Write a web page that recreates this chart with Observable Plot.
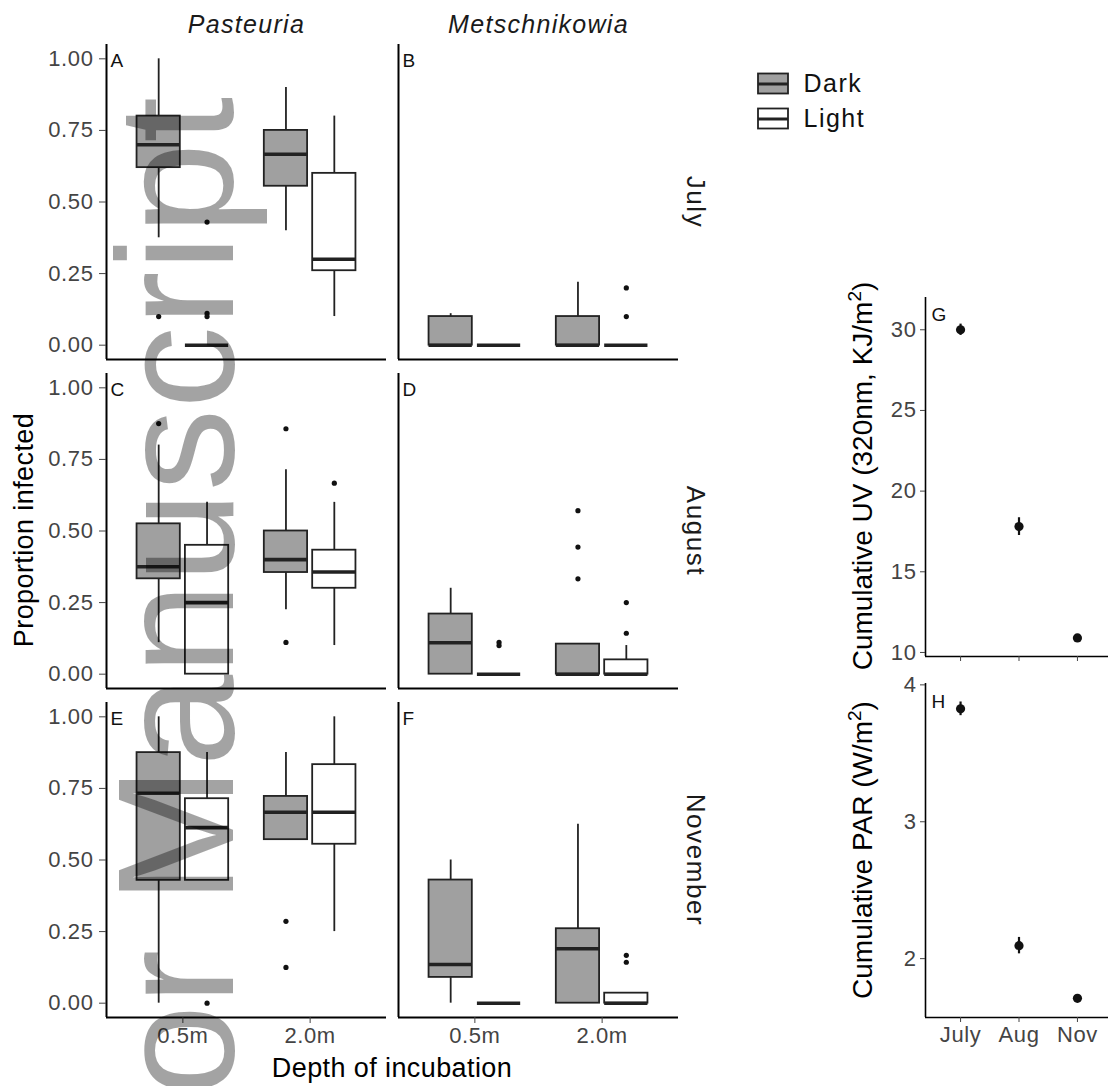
<!DOCTYPE html>
<html>
<head>
<meta charset="utf-8">
<script src="https://cdn.jsdelivr.net/npm/d3@7"></script>
<script src="https://cdn.jsdelivr.net/npm/@observablehq/plot@0.6"></script>
<style>
  body { margin: 0; background: #fff; }
  #fig { position: relative; width: 1108px; height: 1086px; overflow: hidden; background: #fff;
         font-family: "Liberation Sans", Arial, sans-serif; }
  #fig > svg { position: absolute; }
  g[aria-label="y-axis tick label"] text, g[aria-label="x-axis tick label"] text { letter-spacing: 0.6px; }
  g[aria-label="fx-axis tick label"] text { letter-spacing: 1.3px; }
  g[aria-label="fy-axis tick label"] text { letter-spacing: 1.6px; }
  .legend-text text { letter-spacing: 1.5px; }
</style>
</head>
<body>
<div id="fig"></div>
<script>
// ---------------- data ----------------
const species = ["Pasteuria", "Metschnikowia"];
const months = ["July", "August", "November"];
const depths = ["0.5m", "2.0m"];
const treatments = ["Dark", "Light"];

const panelLetters = ["A", "B", "C", "D", "E", "F"];
const panelSpecies = ["Pasteuria", "Metschnikowia", "Pasteuria", "Metschnikowia", "Pasteuria", "Metschnikowia"];
const panelMonth = ["July", "July", "August", "August", "November", "November"];

// boxes: panel A..F, each in order 0.5m Dark, 0.5m Light, 2.0m Dark, 2.0m Light
const whiskerLow = [
  0.375, 0, 0.40, 0.10,
  0, 0, 0, 0,
  0.11, 0, 0.225, 0.10,
  0, 0, 0, 0,
  0, 0.429, 0.571, 0.25,
  0, 0, 0, 0
];
const lowerQuartile = [
  0.62, 0, 0.555, 0.26,
  0, 0, 0, 0,
  0.333, 0, 0.355, 0.30,
  0, 0, 0, 0,
  0.429, 0.429, 0.571, 0.555,
  0.09, 0, 0, 0
];
const medianValue = [
  0.70, 0, 0.667, 0.30,
  0, 0, 0, 0,
  0.375, 0.25, 0.40, 0.357,
  0.11, 0, 0, 0,
  0.733, 0.613, 0.667, 0.667,
  0.135, 0, 0.19, 0
];
const upperQuartile = [
  0.80, 0, 0.75, 0.60,
  0.10, 0, 0.10, 0,
  0.525, 0.45, 0.50, 0.433,
  0.21, 0, 0.105, 0.05,
  0.875, 0.714, 0.722, 0.833,
  0.43, 0, 0.26, 0.035
];
const whiskerHigh = [
  1.00, 0, 0.90, 0.80,
  0.11, 0, 0.22, 0,
  0.80, 0.60, 0.714, 0.60,
  0.30, 0, 0.105, 0.10,
  1.00, 0.875, 0.875, 1.00,
  0.50, 0, 0.625, 0.035
];

const outlierPanel     = ["A","A","A","A","B","B","C","C","C","C","D","D","D","D","D","D","D","E","E","E","F","F"];
const outlierDepth     = ["0.5m","0.5m","0.5m","0.5m","2.0m","2.0m","0.5m","2.0m","2.0m","2.0m","0.5m","0.5m","2.0m","2.0m","2.0m","2.0m","2.0m","0.5m","2.0m","2.0m","2.0m","2.0m"];
const outlierTreatment = ["Dark","Light","Light","Light","Light","Light","Dark","Dark","Dark","Light","Light","Light","Dark","Dark","Dark","Light","Light","Light","Dark","Dark","Light","Light"];
const outlierValue     = [0.10,0.43,0.111,0.10,0.20,0.10,0.875,0.857,0.111,0.667,0.111,0.10,0.571,0.444,0.333,0.25,0.143,0,0.286,0.125,0.167,0.143];

const radMonths = ["July", "Aug", "Nov"];
const uvMean = [30.0, 17.8, 10.9];
const uvErr = [0.35, 0.55, 0.12];
const parMean = [3.825, 2.095, 1.71];
const parErr = [0.05, 0.06, 0.02];

const yTicks = [0, 0.25, 0.5, 0.75, 1];
const uvTicks = [10, 15, 20, 25, 30];
const parTicks = [2, 3, 4];

// ---------------- styles ----------------
const DARK_FILL = "#a0a0a0";
const LINE = "#222";
const DODGE = 0.19, HALF = 0.17;
const FONT = "Liberation Sans, Arial, sans-serif";

const fig = document.getElementById("fig");
function place(el, left, top) {
  el.style.left = left + "px";
  el.style.top = top + "px";
  fig.appendChild(el);
}

// ---------------- tables ----------------
const boxes = whiskerLow.map((lo, i) => {
  const p = Math.floor(i / 4), d = Math.floor((i % 4) / 2), t = i % 2;
  return {
    species: panelSpecies[p], month: panelMonth[p], depth: depths[d], treatment: treatments[t],
    lo, q1: lowerQuartile[i], med: medianValue[i], q3: upperQuartile[i], hi: whiskerHigh[i]
  };
});
const xc = (depth, treatment) => depths.indexOf(depth) + 1 + (treatment === "Dark" ? -DODGE : DODGE);
boxes.forEach(b => { b.x = xc(b.depth, b.treatment); b.x1 = b.x - HALF; b.x2 = b.x + HALF; });

const outliers = outlierValue.map((v, i) => {
  const p = panelLetters.indexOf(outlierPanel[i]);
  return { species: panelSpecies[p], month: panelMonth[p], x: xc(outlierDepth[i], outlierTreatment[i]), y: v };
});
const letters = panelLetters.map((l, i) => ({ letter: l, species: panelSpecies[i], month: panelMonth[i] }));

// ---------------- main faceted boxplots ----------------
const main = Plot.plot({
  width: 720, height: 1086,
  marginLeft: 106, marginRight: 42, marginTop: 44, marginBottom: 69,
  style: { fontFamily: FONT, background: "transparent" },
  x: { domain: [0.4, 2.6] },
  y: { domain: [-0.05, 1.05] },
  fx: { domain: species, paddingInner: 0.042, paddingOuter: 0 },
  fy: { domain: months, paddingInner: 0.0426, paddingOuter: 0 },
  color: { domain: treatments, range: [DARK_FILL, "#ffffff"] },
  marks: [
    Plot.ruleX(boxes, { x: "x", y1: "lo", y2: "q1", fx: "species", fy: "month", stroke: LINE, strokeWidth: 1.8 }),
    Plot.ruleX(boxes, { x: "x", y1: "q3", y2: "hi", fx: "species", fy: "month", stroke: LINE, strokeWidth: 1.8 }),
    Plot.rect(boxes, { x1: "x1", x2: "x2", y1: "q1", y2: "q3", fx: "species", fy: "month", fill: "treatment", stroke: LINE, strokeWidth: 1.8 }),
    Plot.ruleY(boxes, { y: "med", x1: "x1", x2: "x2", fx: "species", fy: "month", stroke: LINE, strokeWidth: 3.6 }),
    Plot.dot(outliers, { x: "x", y: "y", fx: "species", fy: "month", r: 2.6, fill: "#111", stroke: null }),
    Plot.text(letters, { x: 0.4, y: 1, text: "letter", fx: "species", fy: "month", dx: 4, dy: 2, textAnchor: "start", lineAnchor: "middle", fontSize: 19, fill: "#111" }),
    Plot.ruleX([0.4], { stroke: "#000", strokeWidth: 2 }),
    Plot.ruleY([-0.05], { stroke: "#000", strokeWidth: 2 }),
    Plot.axisY({ anchor: "left", ticks: yTicks, tickFormat: d3.format(".2f"), tickSize: 7, tickPadding: 6, fontSize: 22, color: "#444", label: null }),
    Plot.axisX({ anchor: "bottom", ticks: [1, 2], tickFormat: d => depths[d - 1], tickSize: 6, tickPadding: 4, fontSize: 22, color: "#444", label: null }),
    Plot.axisFx({ anchor: "top", tickSize: 0, tickPadding: 12, fontSize: 25, fontStyle: "italic", color: "#1a1a1a", label: null }),
    Plot.axisFy({ anchor: "right", tickSize: 0, tickPadding: 0, dx: 17, rotate: 90, textAnchor: "middle", lineAnchor: "middle", fontSize: 26, color: "#1a1a1a", label: null })
  ]
});
place(main, 0, 0);

// ---------------- legend ----------------
const legend = Plot.plot({
  width: 140, height: 70,
  marginLeft: 0, marginRight: 0, marginTop: 0, marginBottom: 0,
  style: { fontFamily: FONT, background: "transparent" },
  x: { domain: [0, 1], range: [8, 38], axis: null },
  y: { type: "band", domain: treatments, padding: 0, axis: null },
  color: { domain: treatments, range: [DARK_FILL, "#ffffff"] },
  marks: [
    Plot.ruleX(treatments, { x: 0.5, y: d => d, insetTop: 2.5, insetBottom: 2.5, stroke: LINE, strokeWidth: 1.8 }),
    Plot.barX(treatments, { x1: 0, x2: 1, y: d => d, fill: d => d, stroke: LINE, strokeWidth: 1.8, insetTop: 7.5, insetBottom: 7.5 }),
    Plot.ruleY(treatments, { y: d => d, x1: 0, x2: 1, stroke: LINE, strokeWidth: 3 }),
    Plot.text(treatments, { x: 1, y: d => d, text: d => d, dx: 15, textAnchor: "start", lineAnchor: "middle", fontSize: 25, fill: "#111", className: "legend-text" })
  ]
});
place(legend, 750, 66);

// ---------------- G: cumulative UV ----------------
const uvData = radMonths.map((m, i) => ({ i: i + 1, mean: uvMean[i], lo: uvMean[i] - uvErr[i], hi: uvMean[i] + uvErr[i] }));
const plotG = Plot.plot({
  width: 268, height: 380,
  marginLeft: 85, marginRight: 0, marginTop: 7, marginBottom: 14,
  style: { fontFamily: FONT, background: "transparent" },
  x: { domain: [0.4, 3.6], range: [85, 272] },
  y: { domain: [9.75, 32] },
  marks: [
    Plot.ruleX(uvData, { x: "i", y1: "lo", y2: "hi", stroke: "#111", strokeWidth: 2.2 }),
    Plot.dot(uvData, { x: "i", y: "mean", r: 4.6, fill: "#111", stroke: null }),
    Plot.text(["G"], { frameAnchor: "top-left", text: d => d, dx: 6, dy: 10, lineAnchor: "top", fontSize: 19, fill: "#111" }),
    Plot.ruleX([0.4], { stroke: "#000", strokeWidth: 1.6 }),
    Plot.ruleY([9.75], { stroke: "#000", strokeWidth: 1.6 }),
    Plot.axisY({ ticks: uvTicks, tickFormat: d3.format("d"), tickSize: 5, tickPadding: 4, fontSize: 22, color: "#444", label: null }),
    Plot.axisX({ ticks: [1, 2, 3], tickFormat: () => "", tickSize: 5, color: "#444", label: null })
  ]
});
place(plotG, 840, 290);

// ---------------- H: cumulative PAR ----------------
const parData = radMonths.map((m, i) => ({ i: i + 1, mean: parMean[i], lo: parMean[i] - parErr[i], hi: parMean[i] + parErr[i] }));
const plotH = Plot.plot({
  width: 268, height: 426,
  marginLeft: 85, marginRight: 0, marginTop: 23, marginBottom: 69,
  style: { fontFamily: FONT, background: "transparent" },
  x: { domain: [0.4, 3.6], range: [85, 272] },
  y: { domain: [1.57, 4.01] },
  marks: [
    Plot.ruleX(parData, { x: "i", y1: "lo", y2: "hi", stroke: "#111", strokeWidth: 2.2 }),
    Plot.dot(parData, { x: "i", y: "mean", r: 4.6, fill: "#111", stroke: null }),
    Plot.text(["H"], { frameAnchor: "top-left", text: d => d, dx: 6, dy: 11, lineAnchor: "top", fontSize: 19, fill: "#111" }),
    Plot.ruleX([0.4], { stroke: "#000", strokeWidth: 1.6 }),
    Plot.ruleY([1.57], { stroke: "#000", strokeWidth: 1.6 }),
    Plot.axisY({ ticks: parTicks, tickFormat: d3.format("d"), tickSize: 5, tickPadding: 4, fontSize: 22, color: "#444", label: null }),
    Plot.axisX({ ticks: [1, 2, 3], tickFormat: d => radMonths[d - 1], tickSize: 5, tickPadding: 4, fontSize: 22, color: "#444", label: null })
  ]
});
place(plotH, 840, 660);

// ---------------- titles and watermark overlay ----------------
const NS = "http://www.w3.org/2000/svg";
const over = document.createElementNS(NS, "svg");
over.setAttribute("width", 1108);
over.setAttribute("height", 1086);
over.style.pointerEvents = "none";
over.setAttribute("font-family", FONT);
over.innerHTML = `
  <text transform="translate(33,530) rotate(-90)" text-anchor="middle" font-size="27" letter-spacing="0.4" fill="#000">Proportion infected</text>
  <text x="392" y="1077" text-anchor="middle" font-size="27" letter-spacing="0.4" fill="#000">Depth of incubation</text>
  <text transform="translate(872,476) rotate(-90)" text-anchor="middle" font-size="28" fill="#000">Cumulative UV (320nm, KJ/m<tspan font-size="19" dy="-11">2</tspan><tspan dy="11">)</tspan></text>
  <text transform="translate(872,850) rotate(-90)" text-anchor="middle" font-size="28" fill="#000">Cumulative PAR (W/m<tspan font-size="19" dy="-11">2</tspan><tspan dy="11">)</tspan></text>
  <text transform="translate(233,97) rotate(-90)" text-anchor="end" font-size="165" fill="#000" fill-opacity="0.36">Author Manuscript</text>
`;
place(over, 0, 0);
</script>
</body>
</html>
